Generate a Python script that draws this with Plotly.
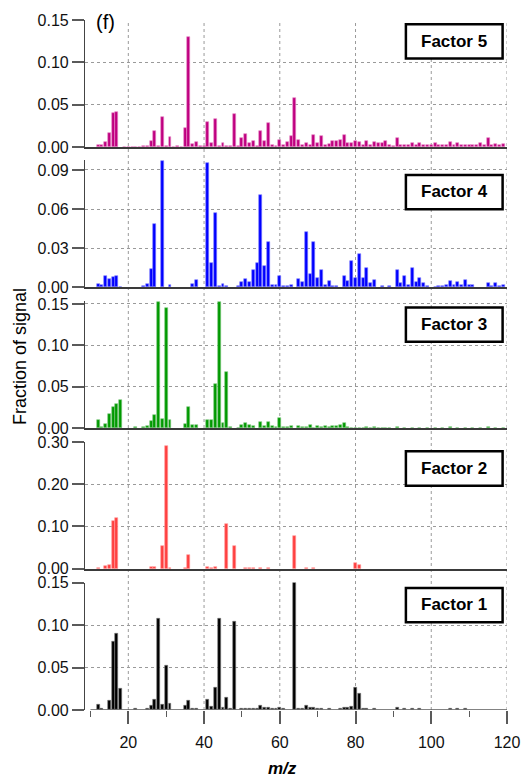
import plotly.graph_objects as go

# ---------------- data (m/z, fraction of signal) ----------------
f5_mz = [12, 13, 14, 15, 16, 17, 19, 20, 21, 22, 23, 24, 25, 26, 27, 28, 29, 30, 31, 32, 33, 34,
         35, 36, 37, 38, 39, 40, 41, 42, 43, 44, 45, 46, 47, 48, 49, 50, 51, 52, 53, 54, 55, 56,
         57, 58, 59, 60, 61, 62, 63, 64, 65, 66, 67, 68, 69, 70, 71, 72, 73, 74, 75, 76, 77, 78,
         79, 80, 81, 82, 83, 84, 85, 86, 87, 88, 89, 90, 91, 92, 93, 94, 95, 96, 97, 98, 99, 100,
         101, 102, 103, 104, 105, 106, 107, 108, 109, 110, 111, 112, 113, 114, 115, 116, 117, 118, 119]
f5_val = [0.0025, 0.003, 0.006, 0.017, 0.040, 0.042, 0.0005, 0.0005, 0.0005, 0.0005, 0.0005, 0.0008,
          0.0015, 0.0074, 0.0195, 0.0008, 0.036, 0.0008, 0.012, 0.0005, 0.0008, 0.0005,
          0.023, 0.130, 0.004, 0.006, 0.0008, 0.0008, 0.030, 0.0047, 0.0336, 0.001, 0.005, 0.0008,
          0.0016, 0.0395, 0.0015, 0.0105, 0.015, 0.005, 0.007, 0.0015, 0.0195, 0.007,
          0.028, 0.002, 0.0015, 0.008, 0.003, 0.006, 0.0125, 0.0575, 0.008, 0.003, 0.005, 0.003,
          0.014, 0.005, 0.0125, 0.002, 0.004, 0.007, 0.007, 0.008, 0.0137, 0.005,
          0.005, 0.0066, 0.006, 0.002, 0.007, 0.002, 0.0055, 0.005, 0.005, 0.0066, 0.002, 0.001,
          0.011, 0.0023, 0.0023, 0.0023, 0.005, 0.002, 0.0047, 0.002, 0.003, 0.003,
          0.0047, 0.003, 0.0023, 0.002, 0.006, 0.0023, 0.0047, 0.0023, 0.0023, 0.002, 0.0023, 0.003,
          0.0047, 0.003, 0.0113, 0.0023, 0.004, 0.002, 0.004]

f4_mz = [12, 13, 14, 15, 16, 17, 18, 24, 25, 26, 27, 29, 31, 37, 38, 41, 42, 43, 44, 45, 46, 49,
         50, 51, 52, 53, 54, 55, 56, 57, 58, 59, 60, 61, 62, 63, 65, 66, 67, 68, 69, 70, 71, 72,
         73, 74, 75, 77, 78, 79, 80, 81, 82, 83, 84, 85, 87, 89, 91, 92, 93, 94, 95, 96, 97, 98,
         99, 101, 102, 103, 104, 105, 106, 107, 108, 109, 110, 111, 115, 116, 117, 118, 119]
f4_val = [0.0023, 0.0018, 0.0084, 0.0063, 0.0076, 0.0086, 0.0005, 0.001, 0.0023, 0.0142, 0.0484,
          0.097, 0.0015, 0.0028, 0.0053, 0.095, 0.0185, 0.0573, 0.0008, 0.0023, 0.001, 0.0008,
          0.0038, 0.0068, 0.004, 0.0134, 0.0185, 0.0705, 0.0165, 0.035, 0.002, 0.002, 0.009,
          0.001, 0.001, 0.002, 0.0068, 0.004, 0.0425, 0.0105, 0.0345, 0.007, 0.013, 0.002,
          0.005, 0.001, 0.001, 0.009, 0.005, 0.020, 0.007, 0.0255, 0.007, 0.015, 0.003, 0.006,
          0.001, 0.001, 0.0135, 0.003, 0.009, 0.002, 0.015, 0.004, 0.007, 0.003,
          0.001, 0.0005, 0.001, 0.001, 0.0015, 0.005, 0.002, 0.004, 0.002, 0.006, 0.002, 0.0015,
          0.003, 0.001, 0.003, 0.001, 0.002]

f3_mz = [12, 13, 14, 15, 16, 17, 18, 22, 24, 25, 26, 27, 28, 29, 30, 31, 35, 36, 37, 38, 41, 42,
         43, 44, 45, 46, 47, 49, 50, 51, 52, 53, 55, 56, 57, 58, 59, 60, 61, 62, 63, 65, 66, 67,
         68, 69, 70, 71, 72, 73, 74, 75, 76, 77, 78, 79, 80, 81, 82, 83, 84, 85, 86, 87, 88, 89,
         91, 93, 95, 97, 99, 101, 103, 105, 107, 109, 111, 113, 115, 117, 119]
f3_val = [0.0096, 0.002, 0.0048, 0.017, 0.026, 0.030, 0.034, 0.0016, 0.0012, 0.0028, 0.0084,
          0.0156, 0.153, 0.011, 0.145, 0.010, 0.005, 0.026, 0.004, 0.004, 0.010, 0.0104,
          0.053, 0.153, 0.006, 0.068, 0.0012, 0.001, 0.0044, 0.006, 0.0036, 0.003, 0.0072,
          0.0028, 0.0072, 0.0028, 0.0012, 0.0124, 0.0012, 0.002, 0.0028, 0.0028, 0.0012, 0.002,
          0.0036, 0.001, 0.0024, 0.002, 0.0024, 0.002, 0.0024, 0.0028, 0.0036, 0.006, 0.0012,
          0.0008, 0.001, 0.001, 0.001, 0.0012, 0.001, 0.002, 0.001, 0.001, 0.001, 0.001,
          0.0016, 0.001, 0.001, 0.001, 0.001, 0.001, 0.001, 0.002, 0.001, 0.001, 0.001, 0.001,
          0.002, 0.001, 0.001]

f2_mz = [12, 14, 15, 16, 17, 26, 27, 29, 30, 31, 35, 36, 41, 42, 43, 46, 48, 51, 52, 53, 55, 57,
         64, 67, 69, 80, 81]
f2_val = [0.0024, 0.006, 0.008, 0.114, 0.119, 0.004, 0.004, 0.055, 0.291, 0.0016, 0.003, 0.033,
          0.005, 0.0016, 0.005, 0.107, 0.054, 0.001, 0.001, 0.001, 0.0024, 0.0016,
          0.078, 0.001, 0.001, 0.0126, 0.010]

f1_mz = [12, 13, 15, 16, 17, 18, 22, 25, 26, 27, 28, 29, 30, 31, 35, 36, 37, 38, 41, 42, 43, 44,
         45, 46, 47, 48, 50, 51, 52, 53, 54, 55, 56, 57, 58, 59, 60, 61, 64, 65, 66, 67, 68, 69,
         70, 71, 73, 76, 77, 78, 79, 80, 81, 82, 83, 85, 91, 93, 95, 97, 105, 107, 109]
f1_val = [0.006, 0.002, 0.0105, 0.080, 0.090, 0.0246, 0.0016, 0.0016, 0.0047, 0.0117, 0.108,
          0.0059, 0.052, 0.007, 0.0047, 0.0105, 0.0016, 0.0016, 0.0117, 0.0043, 0.0258, 0.108,
          0.0023, 0.014, 0.002, 0.1035, 0.0015, 0.0015, 0.0015, 0.002, 0.002, 0.0055, 0.0027,
          0.0023, 0.0016, 0.0016, 0.0023, 0.0016, 0.150, 0.0016, 0.0016, 0.0047, 0.0023, 0.0023,
          0.0016, 0.0016, 0.0012, 0.002, 0.0023, 0.0023, 0.004, 0.0258, 0.0188, 0.0016, 0.0016,
          0.0016, 0.0023, 0.0012, 0.0012, 0.0012, 0.0012, 0.0012, 0.0012]

factor_names = ["Factor 1", "Factor 2", "Factor 3", "Factor 4", "Factor 5"]
y_tickvals = [[0, 0.05, 0.10, 0.15], [0, 0.10, 0.20, 0.30], [0, 0.05, 0.10, 0.15],
              [0, 0.03, 0.06, 0.09], [0, 0.05, 0.10, 0.15]]
x_major_ticks = [20, 40, 60, 80, 100, 120]
x_minor_ticks = [10, 30, 50, 70, 90, 110]

# ---------------- layout geometry (pixels) ----------------
W, H = 532, 778
ML, MR, MT, MB = 85, 15, 15, 68
PW, PH = W - ML - MR, H - MT - MB
X_RANGE = [8.56, 120]

def px_x(px):
    return (px - ML) / PW

def px_y(py):
    return (H - MB - py) / PH

# panel pixel extents (top, bottom) and y-axis tops, bottom panel first
panel_px = [(581.7, 710.0), (440.0, 567.7), (298.0, 426.3), (156.0, 284.3), (15.0, 143.0)]
y_tops = [0.15, 0.30, 0.1536, 0.0976, 0.15]
box_tops = [587.0, 449.5, 304.5, 171.0, 19.3]

styles = [
    dict(fill="#000000", edge="#7a7a7a"),
    dict(fill="#ff4040", edge="#ff9a9a"),
    dict(fill="#009a00", edge="#80c880"),
    dict(fill="#0000ff", edge="#7c7cff"),
    dict(fill="#bf0080", edge="#e88cc8"),
]
data = [(f1_mz, f1_val), (f2_mz, f2_val), (f3_mz, f3_val), (f4_mz, f4_val), (f5_mz, f5_val)]

FONT = "Liberation Sans, Arial, sans-serif"
fig = go.Figure()
shapes = []
annotations = []

for i in range(5):
    n = "" if i == 0 else str(i + 1)
    mz, val = data[i]
    fig.add_trace(go.Bar(
        x=mz, y=val, xaxis="x" + n, yaxis="y" + n, width=0.78,
        marker=dict(color=styles[i]["fill"], line=dict(color=styles[i]["edge"], width=0.6)),
        showlegend=False))
    top, bot = panel_px[i]
    fig.layout["yaxis" + n] = dict(
        domain=[px_y(bot), px_y(top)], range=[0, y_tops[i]], anchor="x" + n,
        tickvals=y_tickvals[i], tickformat=".2f",
        showline=True, linecolor="#444444", linewidth=1.2,
        ticks="outside", ticklen=12, tickwidth=1.5, tickcolor="#5a5a5a",
        showgrid=True, gridcolor="#9a9a9a", griddash="dot", gridwidth=1,
        zeroline=False, tickfont=dict(family=FONT, size=16, color="#111111"))
    xa = dict(domain=[0, 1], range=X_RANGE, anchor="y" + n, showgrid=False, zeroline=False)
    if i == 0:
        xa.update(showline=False, tickvals=x_major_ticks, ticks="outside", ticklen=13,
                  tickwidth=1.5, tickcolor="#5a5a5a", ticklabelstandoff=5,
                  minor=dict(tickvals=x_minor_ticks, ticks="outside", ticklen=6,
                             tickwidth=1.2, tickcolor="#5a5a5a"),
                  tickfont=dict(family=FONT, size=16, color="#111111"))
    else:
        xa.update(matches="x", showline=True, linecolor="#3a3a3a", linewidth=1.5,
                  ticks="", showticklabels=False)
    fig.layout["xaxis" + n] = xa

    # factor label box
    bt = box_tops[i]
    shapes.append(dict(type="rect", xref="paper", yref="paper",
                       x0=px_x(413.5), x1=px_x(512.5), y0=px_y(bt + 34.5), y1=px_y(bt),
                       line=dict(color="#000000", width=2.5), fillcolor="white", layer="above"))
    annotations.append(dict(text="<b>" + factor_names[i] + "</b>", xref="paper", yref="paper",
                            x=px_x(463), y=px_y(bt + 17.2), showarrow=False,
                            xanchor="center", yanchor="middle",
                            font=dict(family=FONT, size=17, color="#000000")))

# bottom x-axis line starting at m/z 10
shapes.append(dict(type="line", xref="x", yref="y", x0=10, x1=120, y0=0, y1=0,
                   line=dict(color="#5a5a5a", width=1.5), layer="above"))
# vertical dotted grid lines through all panels
for xv in x_major_ticks:
    shapes.append(dict(type="line", xref="x", yref="paper", x0=xv, x1=xv, y0=0, y1=1,
                       line=dict(color="#9a9a9a", width=1, dash="dot"), layer="below"))

annotations.append(dict(text="(f)", xref="paper", yref="paper", x=px_x(94), y=px_y(17),
                        xanchor="left", yanchor="middle", showarrow=False,
                        font=dict(family=FONT, size=20, color="#000000")))
annotations.append(dict(text="Fraction of signal", xref="paper", yref="paper",
                        x=px_x(18), y=px_y(354), textangle=-90, showarrow=False,
                        xanchor="center", yanchor="middle",
                        font=dict(family=FONT, size=18, color="#000000")))
annotations.append(dict(text="<b><i>m/z</i></b>", xref="paper", yref="paper",
                        x=px_x(287), y=px_y(768.5), showarrow=False,
                        xanchor="center", yanchor="middle",
                        font=dict(family=FONT, size=17, color="#000000")))

fig.update_layout(width=W, height=H, margin=dict(l=ML, r=MR, t=MT, b=MB),
                  paper_bgcolor="white", plot_bgcolor="white", bargap=0,
                  shapes=shapes, annotations=annotations)
fig.write_html("out.html")
